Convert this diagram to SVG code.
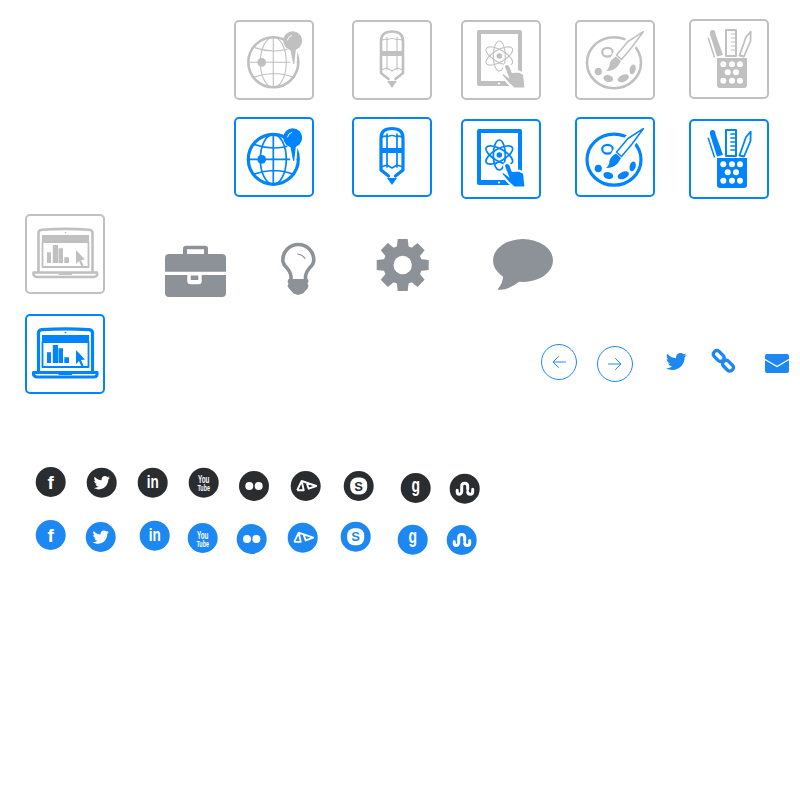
<svg xmlns="http://www.w3.org/2000/svg" width="800" height="800" viewBox="0 0 800 800">
<style>
.g{color:#c0c0c0;--t:1.1;--m:2.6}
.b{color:#0084ff;--t:1.7;--m:3.2}
.box{fill:none;stroke:currentColor;stroke-width:2}
.s{fill:none;stroke:currentColor;stroke-linecap:round;stroke-linejoin:round}
.m{fill:none;stroke:currentColor;stroke-width:var(--m);stroke-linecap:round;stroke-linejoin:round}
.t{fill:none;stroke:currentColor;stroke-width:var(--t);stroke-linecap:round;stroke-linejoin:round}
.f{fill:currentColor}
.w{fill:#fff}
.halo{fill:currentColor;stroke:#fff;stroke-width:2}
.slate{fill:#8c9298}
.sb{fill:#1e88f2}
.dk{fill:#2a2d30}
.dkc{color:#2a2d30}
.sbc{color:#1e88f2}
.dia{fill:currentColor}
.line{fill:none;stroke:#1e88f2;stroke-width:1;stroke-linecap:round;stroke-linejoin:round}
.st{font-family:"Liberation Sans",Arial,sans-serif;font-weight:700;fill:#fff;text-anchor:middle}
</style>
<defs>
<symbol id="globe" viewBox="0 0 80 80" width="80" height="80">
<rect class="box" x="1" y="1" width="78" height="78" rx="4"/>
<circle class="m" cx="39.3" cy="42.3" r="25"/>
<ellipse class="t" cx="39.3" cy="42.3" rx="13" ry="25"/>
<path class="t" d="M39.3 17V67M14.500 42.300H64M19 27Q39.300 35 60 27M19 57.500Q39.300 49.500 60 57.500"/>
<circle class="f" cx="27.700" cy="42.300" r="4.400"/>
<path class="w" d="M47 8H72V31L63.500 31L62 47L57 47L54 31z"/>
<circle class="f" cx="58.700" cy="20.700" r="9.500"/>
<path class="f" d="M56 28L62 28L60.200 44H59.200z"/>
<path fill="none" stroke="#fff" stroke-width="1" stroke-linecap="round" d="M53.500 20Q54 16.500 57.500 15.500"/>
</symbol>
<symbol id="pencil" viewBox="0 0 80 80" width="80" height="80">
<rect class="box" x="1" y="1" width="78" height="78" rx="4"/>
<path class="m" d="M36.500 59L29 53V21Q29 11.500 40 11.500T51 21V53L43.500 59"/>
<path class="f" d="M29 31H51V36H29z"/>
<path class="t" d="M35 31V17M45 31V17M29 21Q32 18 35 20Q40 17 45 20Q48 18 51 21M35 36V50M45 36V50M29 50L35 48L40 51L45 48L51 50"/>
<path class="f" d="M35 61H45L40 68z"/>
</symbol>
<symbol id="tablet" viewBox="0 0 80 80" width="80" height="80">
<rect class="box" x="1" y="1" width="78" height="78" rx="4"/>
<path class="f" fill-rule="evenodd" d="M18 10H59Q61 10 61 12V64Q61 66 59 66H18Q16 66 16 64V12Q16 10 18 10zM20 14V61H57V14z"/>
<circle class="w" cx="38" cy="63.600" r="1"/>
<g transform="translate(38.300 36)"><ellipse class="t" rx="6" ry="15"/><ellipse class="t" rx="6" ry="15" transform="rotate(60)"/><ellipse class="t" rx="6" ry="15" transform="rotate(-60)"/><circle class="f" r="2.800"/></g>
<path class="halo" d="M43 47Q43 44 46 44Q49 44 49.500 47L51.500 52L58 51.500L63 54L64.500 68.500L53 68.500L47 63L41 56Q40 53 42.500 53L46.500 56z"/>
</symbol>
<symbol id="palette" viewBox="0 0 80 80" width="80" height="80">
<rect class="box" x="1" y="1" width="78" height="78" rx="4"/>
<ellipse class="m" cx="39" cy="42.700" rx="27" ry="25.500"/>
<ellipse class="s" cx="32.500" cy="32.200" rx="5.300" ry="4.400" stroke-width="2.200"/>
<path class="w" d="M70 8L51 19L38 33L28 53L46 45L60 28z"/>
<path class="s" stroke-width="1.500" d="M68.300 11.700L53 21.500L41.500 35L46.500 39.500L57 27z"/>
<path class="f" d="M41 36.500L46 41L43 46Q39 51 31 51Q34.500 48 34.500 44Q36 39 41 36.500z"/>
<ellipse class="f" cx="23.300" cy="51.500" rx="3.600" ry="3.800"/>
<ellipse class="f" cx="33.300" cy="58.500" rx="5" ry="3.400" transform="rotate(15 33.300 58.500)"/>
<ellipse class="f" cx="48.300" cy="58.300" rx="6" ry="3.500" transform="rotate(-25 48.300 58.300)"/>
<ellipse class="f" cx="57.700" cy="49.300" rx="3" ry="5" transform="rotate(15 57.700 49.300)"/>
</symbol>
<symbol id="pens" viewBox="0 0 80 80" width="80" height="80">
<rect class="box" x="1" y="1" width="78" height="78" rx="4"/>
<path class="f" fill-rule="evenodd" d="M29.500 39H58V66Q58 69 55 69H31Q28 69 28 66V39z"/>
<g class="w"><circle cx="34.300" cy="45.300" r="3"/><circle cx="43" cy="45.300" r="3"/><circle cx="51" cy="45.300" r="3"/><circle cx="38.700" cy="53.300" r="3"/><circle cx="47" cy="53.300" r="3"/><circle cx="34.300" cy="61.700" r="3"/><circle cx="43" cy="61.700" r="3"/><circle cx="51" cy="61.700" r="3"/></g>
<path class="f" d="M21 15.500Q20.500 11 23.500 11Q26.500 11 26.500 15L34 36L28 37.500z"/>
<path class="s" stroke-width="1.500" d="M19.300 19.300L25.300 37.700"/>
<path class="s" stroke-width="2" d="M37 37V11H47V37z"/>
<path class="t" d="M42 15H47M42 19H47M42 23H47M42 27H47M42 31H47"/>
<path class="s" stroke-width="1.800" d="M50.500 36.500L57 18L61.700 12.700L61.500 22L55 37.500z"/>
</symbol>
<symbol id="laptop" viewBox="0 0 80 80" width="80" height="80">
<rect class="box" x="1" y="1" width="78" height="78" rx="4"/>
<path class="m" d="M13.500 57V19Q13.500 16 17 15.700Q40 14 64 15.700Q67.500 16 67.500 19V57"/>
<path class="f" d="M17 21H64V29H17z"/>
<path class="s" stroke-width="1.800" d="M17.500 28V53H63.500V28"/>
<circle class="f" cx="40.500" cy="18.500" r=".8"/>
<path class="m" fill="#fff" d="M8.500 58.500H72Q73 62.500 69 63H12Q8 62.500 8.500 58.500z"/>
<path class="f" d="M33.500 59.300H47V61H33.500z"/>
<path class="f" d="M22 38.300H26V49H22zM27.800 31H33V49H27.800zM33.500 34.300H38V49H33.500zM39.300 43.300H44V49H39.300zM51 36L60 45.500L56 46L58.500 51.500L56.500 52.500L54 47L51 50z"/>
</symbol>
<path id="bird" d="M22.460 6c-.77.35-1.600.58-2.460.69.880-.53 1.560-1.370 1.880-2.380-.83.500-1.750.85-2.720 1.050C18.370 4.500 17.260 4 16 4c-2.350 0-4.270 1.920-4.270 4.290 0 .34.04.67.11.98C8.280 9.090 5.110 7.380 3 4.790c-.37.630-.58 1.370-.58 2.150 0 1.490.75 2.810 1.910 3.560-.71 0-1.370-.2-1.950-.5v.03c0 2.080 1.480 3.820 3.440 4.210a4.220 4.220 0 0 1-1.930.07 4.280 4.280 0 0 0 4 2.980 8.521 8.521 0 0 1-5.330 1.840c-.34 0-.68-.02-1.020-.06C3.440 20.290 5.700 21 8.120 21 16 21 20.330 14.460 20.330 8.790c0-.19 0-.37-.01-.56.840-.6 1.560-1.360 2.140-2.230z"/>
<g id="m-f"><text class="st" y="7" font-size="19">f</text></g>
<g id="m-tw"><use href="#bird" fill="#fff" transform="translate(-9.300 -9.700) scale(.78)"/></g>
<g id="m-in"><text class="st" y="5.700" font-size="18" textLength="12" lengthAdjust="spacingAndGlyphs">in</text></g>
<g id="m-yt"><text class="st" y=".7" font-size="11" textLength="11.500" lengthAdjust="spacingAndGlyphs">You</text><text class="st" y="8.500" font-size="9.500" textLength="12.500" lengthAdjust="spacingAndGlyphs">Tube</text></g>
<g id="m-fl" fill="#fff"><circle cx="-4.700" r="4"/><circle cx="4.700" r="4"/></g>
<g id="m-da"><path fill="none" stroke="#fff" stroke-width="1.900" stroke-linejoin="round" d="M-8.500 4.200L-4 -5L10.500 0L3 2.700L1 -3M-4 -5L-2 4.200L-8.500 4.200"/></g>
<g id="m-sk"><rect x="-8.500" y="-8.500" width="17" height="17" rx="7" fill="#fff"/><text class="st" y="4.500" font-size="13" style="fill:currentColor">S</text></g>
<g id="m-g"><text class="st" y="3.600" font-size="21" textLength="8.500" lengthAdjust="spacingAndGlyphs">g</text></g>
<g id="m-su"><path fill="none" stroke="#fff" stroke-width="3" stroke-linecap="round" d="M-7.500 1.500V3Q-7.500 5.500 -5.500 5.500T-3 3V-2.500Q-3 -5.500 0 -5.500T3 -2.500V.5M3 3Q3 5.500 5.500 5.500T8 3V.5"/></g>
</defs>

<use id="globe-gray" class="g" href="#globe" x="234" y="20"/>
<use id="pencil-gray" class="g" href="#pencil" x="352" y="20"/>
<use id="tablet-gray" class="g" href="#tablet" x="461" y="20"/>
<use id="palette-gray" class="g" href="#palette" x="575" y="20"/>
<use id="pens-gray" class="g" href="#pens" x="689" y="19"/>
<use id="globe-blue" class="b" href="#globe" x="234" y="117"/>
<use id="pencil-blue" class="b" href="#pencil" x="352" y="117"/>
<use id="tablet-blue" class="b" href="#tablet" x="461" y="119"/>
<use id="palette-blue" class="b" href="#palette" x="575" y="117"/>
<use id="pens-blue" class="b" href="#pens" x="689" y="119"/>
<use id="laptop-gray" class="g" href="#laptop" x="25" y="214"/>
<use id="laptop-blue" class="b" href="#laptop" x="25" y="314"/>

<g id="briefcase">
<path class="slate" d="M183 254V248.500Q183 245.700 186 245.700H205Q208 245.700 208 248.500V254H204V249.300H187V254z"/>
<path class="slate" d="M169 254H222Q226 254 226 258V271.700H165V258Q165 254 169 254zM165 275H187.300V281Q187.300 284.300 190.500 284.300H198.500Q201.700 284.300 201.700 281V275H226V293Q226 297 222 297H169Q165 297 165 293z"/>
<path class="slate" d="M190.700 275.500H198.300V280H190.700z"/>
</g>
<g id="bulb">
<path fill="none" stroke="#8c9298" stroke-width="3.600" d="M291 279V277Q291 273 287 268Q282.800 264 282.800 260A15.500 15.500 0 0 1 313.800 260Q313.800 264 309.500 268Q305.500 273 305.500 277V279"/>
<path class="slate" d="M288.500 279H308L308.500 281.500L307.500 283.500L308.500 286L307.500 288.500L303 293.500L298 295L293.500 293.500L289 288.500L287.500 286L288.500 283.500L287.500 281.500z"/>
<path fill="none" stroke="#8c9298" stroke-width="1.200" stroke-linecap="round" d="M297.500 254Q302 254.500 305 258.500"/>
</g>
<g id="gear" transform="translate(402.700 265)">
<g class="slate"><circle r="19.500"/><path id="tooth" d="M-5 -26H5L6 -17H-6z"/><use href="#tooth" transform="rotate(45)"/><use href="#tooth" transform="rotate(90)"/><use href="#tooth" transform="rotate(135)"/><use href="#tooth" transform="rotate(180)"/><use href="#tooth" transform="rotate(225)"/><use href="#tooth" transform="rotate(270)"/><use href="#tooth" transform="rotate(315)"/></g>
<circle class="w" r="9.200"/>
</g>
<g id="speech">
<ellipse class="slate" cx="523" cy="260.500" rx="30" ry="21.500"/>
<path class="slate" d="M503 274Q504 282 497.500 289.500Q508 291 520 281z"/>
</g>
<g id="arrow-left"><circle class="line" cx="559" cy="362" r="17.500"/><path class="line" d="M565.500 362H553.500M558.500 356.500L553 362L558.500 367.500"/></g>
<g id="arrow-right"><circle class="line" cx="615" cy="364" r="17.500"/><path class="line" d="M608.500 364H620.500M615.500 358.500L621 364L615.500 369.500"/></g>
<g id="twitter"><use href="#bird" class="sb" transform="translate(664.300 349)"/></g>
<g id="link" fill="none" stroke="#1e88f2" stroke-width="3.400">
<rect x="-6" y="-3.500" width="12" height="7" rx="3" transform="translate(718.700 356) rotate(45)"/>
<rect x="-6" y="-3.500" width="12" height="7" rx="3" transform="translate(728 365.700) rotate(45)"/>
</g>
<g id="mail">
<rect class="sb" x="765" y="354" width="24" height="19" rx="2"/>
<path fill="none" stroke="#fff" stroke-width="1.400" d="M765 359.500L777 366.500L789 359.500"/>
</g>

<g id="social-dark" class="dkc">
<g id="d-f" transform="translate(50.700 482)"><circle class="dk" r="15"/><use href="#m-f"/></g>
<g id="d-tw" transform="translate(101.700 482.700)"><circle class="dk" r="15"/><use href="#m-tw"/></g>
<g id="d-in" transform="translate(152.700 482.700)"><circle class="dk" r="15"/><use href="#m-in"/></g>
<g id="d-yt" transform="translate(203.700 482.700)"><circle class="dk" r="15"/><use href="#m-yt"/></g>
<g id="d-fl" transform="translate(254 486)"><circle class="dk" r="15"/><use href="#m-fl"/></g>
<g id="d-da" transform="translate(305.700 486)"><circle class="dk" r="15"/><use href="#m-da"/></g>
<g id="d-sk" transform="translate(358.700 486)"><circle class="dk" r="15"/><use href="#m-sk"/></g>
<g id="d-g" transform="translate(415.700 488)"><circle class="dk" r="15"/><use href="#m-g"/></g>
<g id="d-su" transform="translate(464.700 488.700)"><circle class="dk" r="15"/><use href="#m-su"/></g>
</g>
<g id="social-blue" class="sbc">
<g id="b-f" transform="translate(50.700 535)"><circle class="sb" r="15"/><use href="#m-f"/></g>
<g id="b-tw" transform="translate(100.700 537)"><circle class="sb" r="15"/><use href="#m-tw"/></g>
<g id="b-in" transform="translate(154.700 535.700)"><circle class="sb" r="15"/><use href="#m-in"/></g>
<g id="b-yt" transform="translate(202.700 538)"><circle class="sb" r="15"/><use href="#m-yt"/></g>
<g id="b-fl" transform="translate(251.700 539)"><circle class="sb" r="15"/><use href="#m-fl"/></g>
<g id="b-da" transform="translate(302.700 537.700)"><circle class="sb" r="15"/><use href="#m-da"/></g>
<g id="b-sk" transform="translate(355.700 536.700)"><circle class="sb" r="15"/><use href="#m-sk"/></g>
<g id="b-g" transform="translate(412.700 539.700)"><circle class="sb" r="15"/><use href="#m-g"/></g>
<g id="b-su" transform="translate(461.700 540)"><circle class="sb" r="15"/><use href="#m-su"/></g>
</g>
</svg>
